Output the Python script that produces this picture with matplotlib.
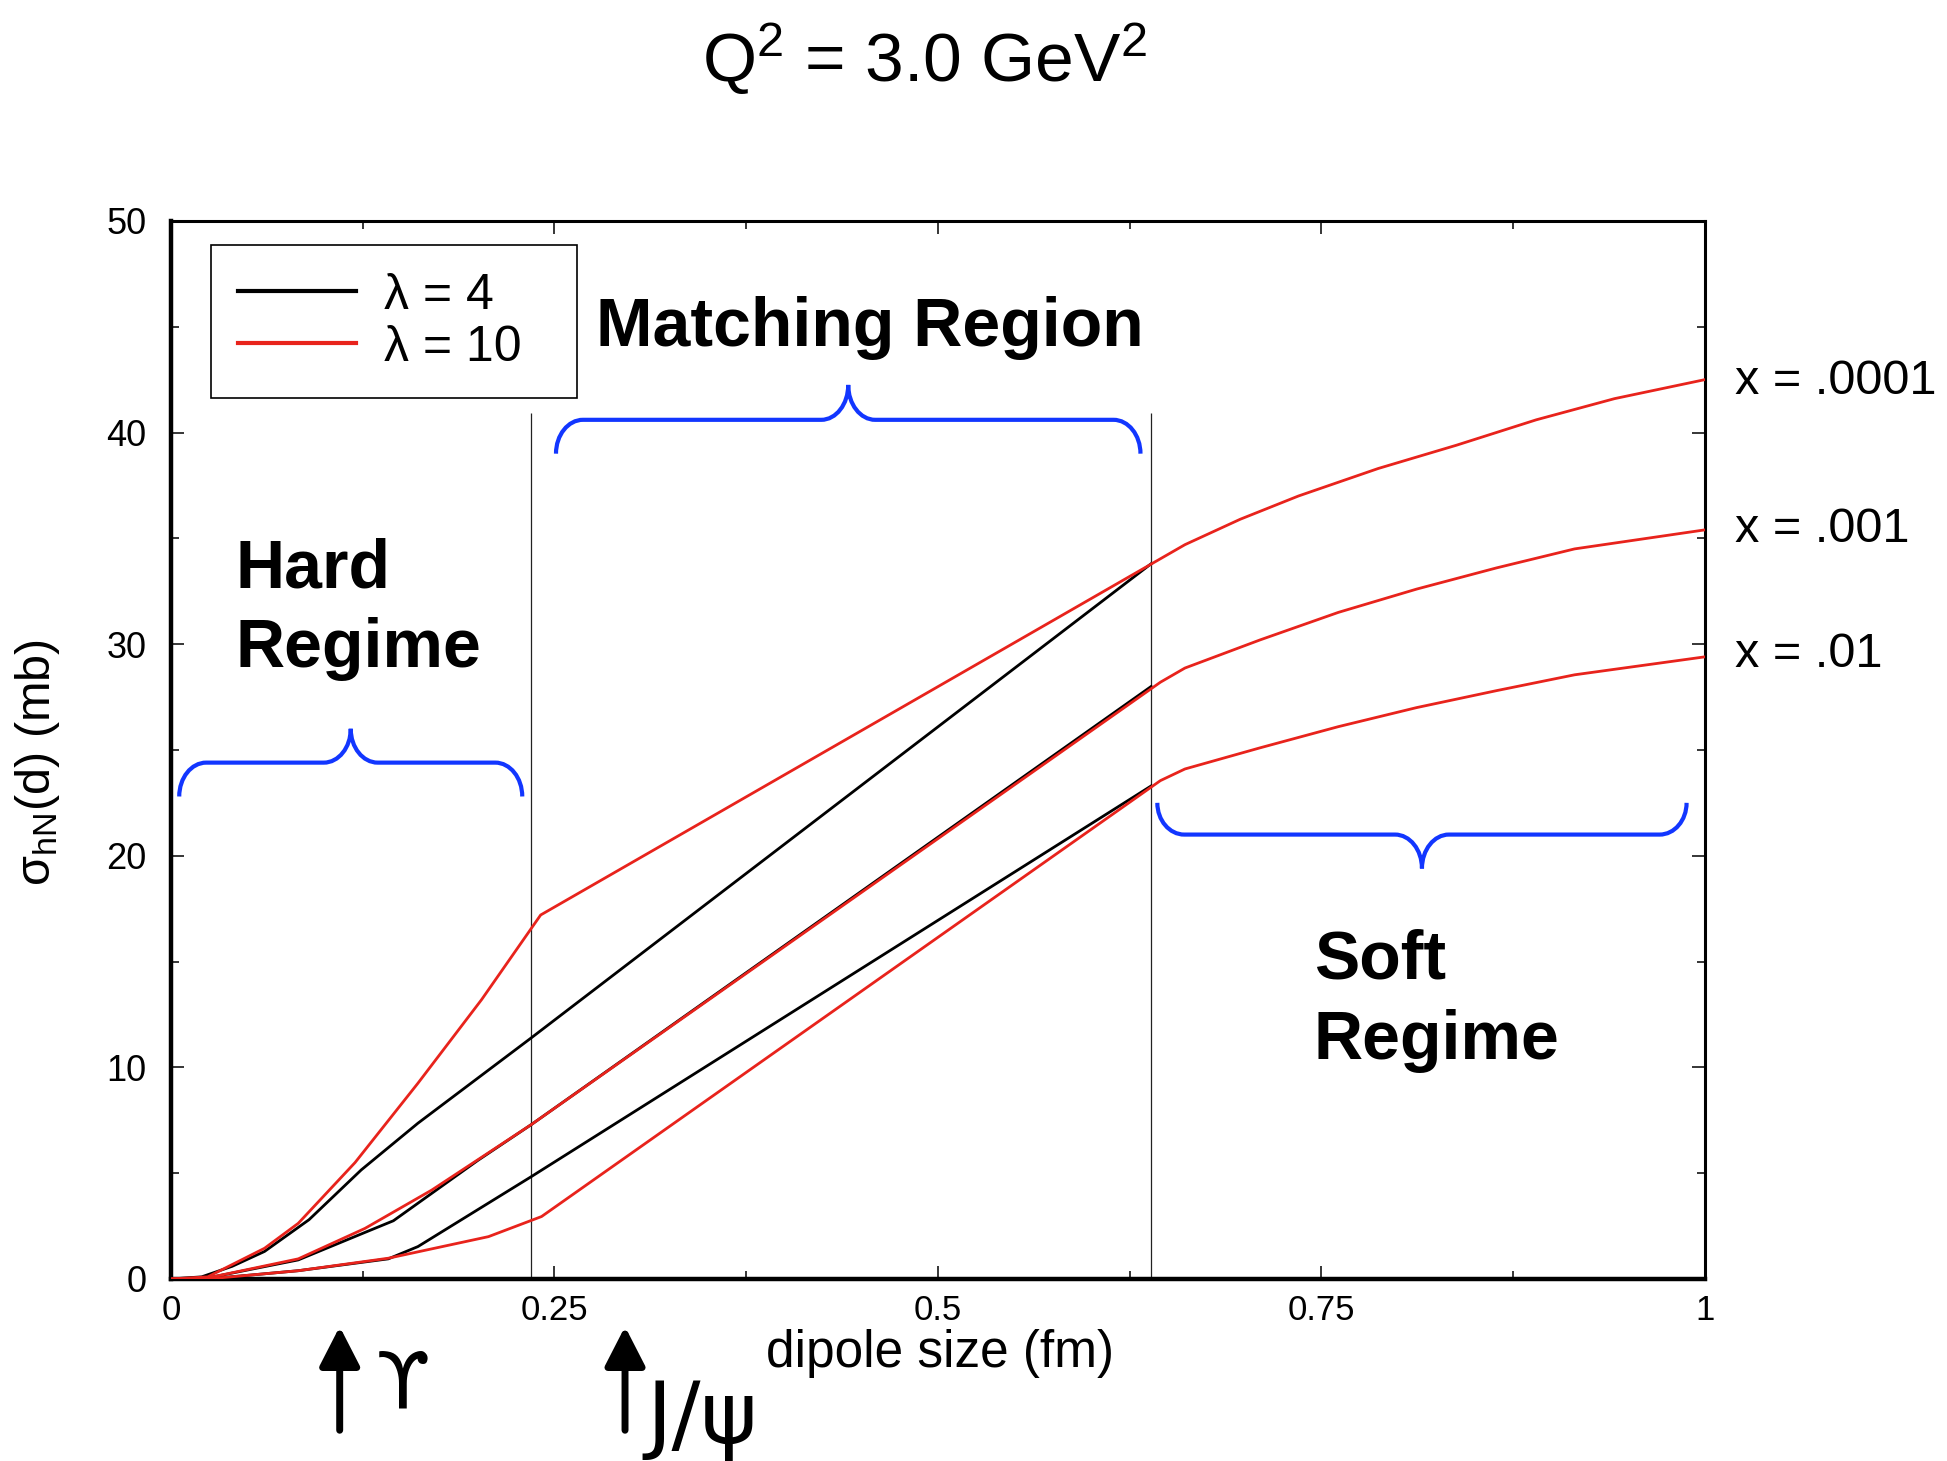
import matplotlib
matplotlib.use("Agg")
import matplotlib.pyplot as plt
from matplotlib.path import Path
from matplotlib.patches import PathPatch
from matplotlib.ticker import MultipleLocator, FixedLocator

plt.rcParams['font.family'] = ['Liberation Sans', 'DejaVu Sans']
plt.rcParams['mathtext.fontset'] = 'custom'
plt.rcParams['mathtext.rm'] = 'Liberation Sans'
plt.rcParams['mathtext.it'] = 'Liberation Sans'
plt.rcParams['mathtext.bf'] = 'Liberation Sans:bold'

# dipole size d (fm) and sigma_hN (mb)
# lambda = 4 (black)
d_l4_x4 = [0, 0.02, 0.04, 0.061, 0.09, 0.124, 0.161, 0.235, 0.639]
s_l4_x4 = [0, 0.1, 0.6, 1.3, 2.8, 5.15, 7.36, 11.4, 33.8]
d_l4_x3 = [0, 0.024, 0.083, 0.1265, 0.145, 0.2, 0.235, 0.639]
s_l4_x3 = [0, 0.05, 0.9, 2.2, 2.75, 5.6, 7.3, 28.0]
d_l4_x2 = [0, 0.024, 0.083, 0.1417, 0.161, 0.235, 0.639]
s_l4_x2 = [0, 0.0, 0.39, 0.95, 1.53, 4.84, 23.3]

# lambda = 10 (red)
d_l10_x4 = [0, 0.024, 0.061, 0.083, 0.12, 0.161, 0.2025, 0.241,
            0.661, 0.697, 0.735, 0.787, 0.838, 0.89, 0.941, 1.0]
s_l10_x4 = [0, 0.1, 1.45, 2.63, 5.5, 9.25, 13.2, 17.2,
            34.7, 35.9, 37.0, 38.3, 39.4, 40.6, 41.6, 42.5]
d_l10_x3 = [0, 0.024, 0.083, 0.1265, 0.17, 0.235, 0.645,
            0.661, 0.71, 0.761, 0.812, 0.864, 0.915, 1.0]
s_l10_x3 = [0, 0.05, 0.95, 2.39, 4.2, 7.3, 28.2,
            28.87, 30.2, 31.5, 32.6, 33.6, 34.5, 35.4]
d_l10_x2 = [0, 0.024, 0.083, 0.1417, 0.207, 0.2416, 0.645,
            0.661, 0.71, 0.761, 0.812, 0.864, 0.915, 1.0]
s_l10_x2 = [0, 0.0, 0.39, 0.98, 2.0, 2.95, 23.55,
            24.1, 25.1, 26.1, 27.0, 27.8, 28.55, 29.4]

x_labels = ['x = .0001', 'x = .001', 'x = .01']
x_label_y = [42.4, 35.4, 29.5]

region_bounds = [0.235, 0.639]
region_top = 40.9

xticks = [0, 0.25, 0.5, 0.75, 1]
xticklabels = ['0', '0.25', '0.5', '0.75', '1']
yticks = [0, 10, 20, 30, 40, 50]

RED = '#e8231c'
BLUE = '#1236ff'


def brace(ax, x0, x1, y_end, y_bar, y_tip, rx=0.0176):
    k = 0.5523
    xm = (x0 + x1) / 2
    verts = [
        (x0, y_end),
        (x0, y_end + k * (y_bar - y_end)), (x0 + rx * (1 - k), y_bar), (x0 + rx, y_bar),
        (xm - rx, y_bar),
        (xm - rx * (1 - k), y_bar), (xm, y_tip - k * (y_tip - y_bar)), (xm, y_tip),
        (xm, y_tip - k * (y_tip - y_bar)), (xm + rx * (1 - k), y_bar), (xm + rx, y_bar),
        (x1 - rx, y_bar),
        (x1 - rx * (1 - k), y_bar), (x1, y_end + k * (y_bar - y_end)), (x1, y_end),
    ]
    codes = [Path.MOVETO] + [Path.CURVE4] * 3 + [Path.LINETO] + [Path.CURVE4] * 6 \
        + [Path.LINETO] + [Path.CURVE4] * 3
    ax.add_patch(PathPatch(Path(verts, codes), fill=False, ec=BLUE, lw=3.0,
                           capstyle='butt', clip_on=False, zorder=5))


fig = plt.figure(figsize=(19.47, 14.61), dpi=100)
ax = fig.add_axes([0.0878, 0.1246, 0.7879, 0.7242])

black_curves = [(d_l4_x4, s_l4_x4), (d_l4_x3, s_l4_x3), (d_l4_x2, s_l4_x2)]
red_curves = [(d_l10_x4, s_l10_x4), (d_l10_x3, s_l10_x3), (d_l10_x2, s_l10_x2)]

for i, (d, s) in enumerate(black_curves):
    ax.plot(d, s, color='black', lw=2.0, label='λ = 4' if i == 0 else None, zorder=3)
for i, (d, s) in enumerate(red_curves):
    ax.plot(d, s, color=RED, lw=2.0, label='λ = 10  ' if i == 0 else None, zorder=4)

ax.vlines(region_bounds, 0, region_top, color='#222222', lw=0.9, zorder=2)

ax.set_xlim(0, 1)
ax.set_ylim(0, 50)
ax.xaxis.set_major_locator(FixedLocator(xticks))
ax.set_xticklabels(xticklabels)
ax.xaxis.set_minor_locator(MultipleLocator(0.125))
ax.yaxis.set_major_locator(FixedLocator(yticks))
ax.yaxis.set_minor_locator(MultipleLocator(5))
ax.tick_params(which='both', direction='in', top=True, right=True, width=1.1)
ax.tick_params(which='major', length=9.4)
ax.tick_params(which='minor', length=5.8)
ax.tick_params(axis='x', which='major', labelsize=25, pad=11)
ax.tick_params(axis='y', which='major', labelsize=26, pad=17.5)
for side in ['left', 'bottom']:
    ax.spines[side].set_linewidth(3.2)
for side in ['top', 'right']:
    ax.spines[side].set_linewidth(2.2)

ax.set_xlabel('dipole size (fm)', fontsize=37)
ax.xaxis.set_label_coords(0.501, -0.047)
ax.set_ylabel(r'σ$_{\mathrm{hN}}$(d) (mb)', fontsize=35)
ax.yaxis.set_label_coords(-0.071, 0.488)

leg = ax.legend(loc='upper left', bbox_to_anchor=(0.026, 0.977), borderaxespad=0,
                fontsize=36, frameon=True, fancybox=False, edgecolor='black',
                framealpha=1, handlelength=2.36, handletextpad=0.55,
                labelspacing=0.12, borderpad=0.55)
leg.get_frame().set_linewidth(1.2)
for line in leg.get_lines():
    line.set_linewidth(3.0)

# curve labels on the right
for lab, y in zip(x_labels, x_label_y):
    ax.text(1.0196, y, lab, fontsize=35, ha='left', va='center', clip_on=False)

# region labels (baseline of last line)
ax.text(0.0424, 28.9, 'Hard\nRegime', fontsize=49, fontweight='bold', ha='left',
        va='baseline', linespacing=1.32)
ax.text(0.277, 44.1, 'Matching Region', fontsize=49, fontweight='bold', ha='left', va='baseline')
ax.text(0.745, 10.4, 'Soft\nRegime', fontsize=49, fontweight='bold', ha='left',
        va='baseline', linespacing=1.32)

brace(ax, 0.0054, 0.229, 22.8, 24.4, 26.0)
brace(ax, 0.251, 0.632, 39.0, 40.6, 42.25)
brace(ax, 0.643, 0.988, 22.5, 21.0, 19.4)

# meson size markers below the axis
arrow_style = '-|>,head_length=0.8,head_width=0.41'
for xa in [0.110, 0.296]:
    ax.annotate('', xy=(xa, -0.045), xytext=(xa, -0.143),
                xycoords=('data', 'axes fraction'), textcoords=('data', 'axes fraction'),
                arrowprops=dict(arrowstyle=arrow_style, lw=5, color='black',
                                mutation_scale=30, shrinkA=0, shrinkB=0))
ax.annotate('ϒ', xy=(0.151, -0.122), xycoords=('data', 'axes fraction'),
            fontsize=56, family='DejaVu Sans', ha='center', va='baseline')
ax.annotate('J/ψ', xy=(0.310, -0.155), xycoords=('data', 'axes fraction'),
            fontsize=62, family='DejaVu Sans', ha='left', va='baseline')

fig.text(0.4746, 0.9439, r'Q$^{2}$ = 3.0 GeV$^{2}$', fontsize=50, ha='center', va='baseline')

fig.savefig('out.png', dpi=100)
